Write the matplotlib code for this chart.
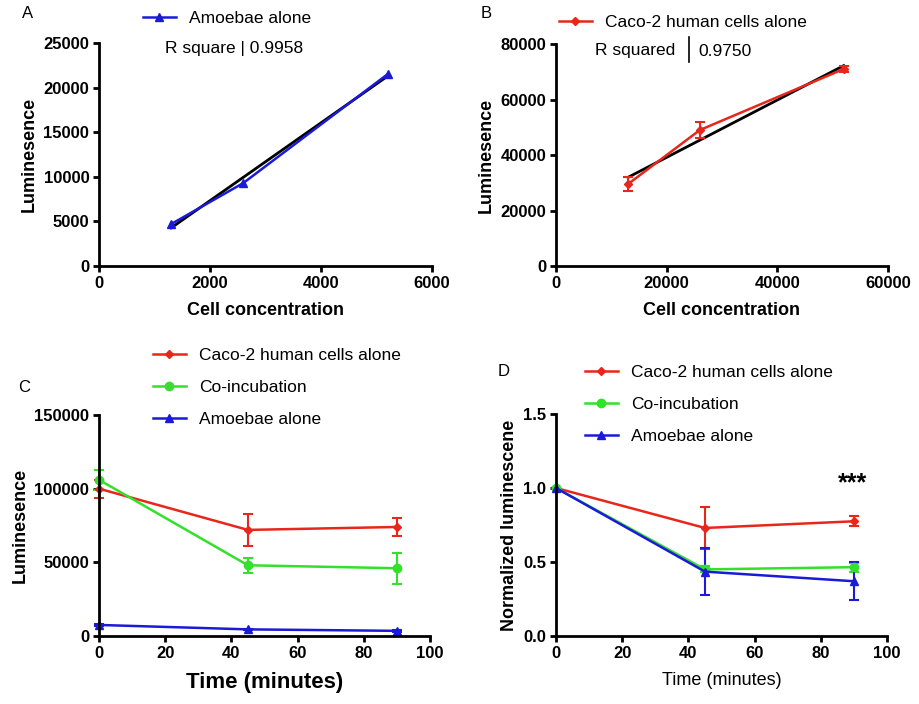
import numpy as np
import matplotlib
matplotlib.use('Agg')
import matplotlib.pyplot as plt
from matplotlib.ticker import FormatStrFormatter

plt.rcParams['font.family'] = ['Liberation Sans', 'DejaVu Sans']

RED = '#e8261b'
GREEN = '#33e02a'
BLUE = '#1a1ad8'

# panel A - amoebae standard curve
a_conc = [1300, 2600, 5200]
a_lum = [4700, 9300, 21500]
a_r2 = '0.9958'

# panel B - Caco-2 standard curve
b_conc = [13000, 26000, 52000]
b_lum = [29500, 49000, 71000]
b_err = [2500, 3000, 1000]
b_r2 = '0.9750'

# panels C and D - time course
times = [0, 45, 90]
c_caco = [100000, 72000, 74000]
c_caco_err = [6000, 11000, 6000]
c_coinc = [106000, 48000, 46000]
c_coinc_err = [7000, 5000, 10500]
c_amoeba = [7500, 4500, 3500]
c_amoeba_err = [500, 500, 500]

d_caco = [1.0, 0.73, 0.775]
d_caco_err = [0.0, 0.14, 0.035]
d_coinc = [1.0, 0.45, 0.465]
d_coinc_err = [0.0, 0.02, 0.03]
d_amoeba = [1.0, 0.435, 0.37]
d_amoeba_err = [0.0, 0.16, 0.13]

labels = ['Caco-2 human cells alone', 'Co-incubation', 'Amoebae alone']

W, H = 920, 704
fig = plt.figure(figsize=(W / 100, H / 100), dpi=100)


def make_axes(x0, x1, ytop, ybot):
    return fig.add_axes([x0 / W, 1 - ybot / H, (x1 - x0) / W, (ybot - ytop) / H])


def style(ax):
    for s in ['top', 'right']:
        ax.spines[s].set_visible(False)
    for s in ['left', 'bottom']:
        ax.spines[s].set_linewidth(2)
    ax.tick_params(direction='out', length=4, width=2, labelsize=12, pad=3)
    for t in ax.get_xticklabels() + ax.get_yticklabels():
        t.set_fontweight('bold')


def put_legend(ax, handles, x_px, y_px, spacing=0.96):
    # x_px, y_px: left edge of handle and centre of first row, in figure pixels
    leg = ax.legend(handles, [h.get_label() for h in handles],
                    loc='upper left', bbox_to_anchor=(x_px / W, 1 - (y_px - 7) / H),
                    bbox_transform=fig.transFigure, frameon=False, fontsize=12.5,
                    borderpad=0, borderaxespad=0, handlelength=1.9,
                    handletextpad=0.75, labelspacing=spacing)
    return leg


# ---- A ----
axA = make_axes(99, 432, 43, 266)
pA = np.polyfit(a_conc, a_lum, 1)
lA, = axA.plot(a_conc, a_lum, color=BLUE, marker='^', ms=6, lw=1.8, label='Amoebae alone', zorder=3)
fx = np.array([a_conc[0], a_conc[-1]])
axA.plot(fx, np.polyval(pA, fx), color='black', lw=2, zorder=2)
axA.set_xlim(0, 6000)
axA.set_ylim(0, 25000)
axA.set_xticks([0, 2000, 4000, 6000])
axA.set_yticks(range(0, 25001, 5000))
axA.set_xlabel('Cell concentration', fontsize=13, fontweight='bold', labelpad=8)
axA.set_ylabel('Luminesence', fontsize=13, fontweight='bold', labelpad=4)
style(axA)
put_legend(axA, [lA], 143, 18)
fig.text(165 / W, 1 - 49 / H, 'R square | ' + a_r2, fontsize=12.5, va='center', ha='left')
fig.text(22 / W, 1 - 14 / H, 'A', fontsize=12, va='center', ha='left')

# ---- B ----
axB = make_axes(556, 888, 44, 266)
pB = np.polyfit(b_conc, b_lum, 1)
fx = np.array([b_conc[0], b_conc[-1]])
axB.plot(fx, np.polyval(pB, fx), color='black', lw=2, zorder=2)
ebB = axB.errorbar(b_conc, b_lum, yerr=b_err, color=RED, marker='D', ms=4, lw=1.8,
                   capsize=3.5, capthick=1.5, elinewidth=1.5, zorder=3)
ebB.lines[0].set_label(labels[0])
axB.set_xlim(0, 60000)
axB.set_ylim(0, 80000)
axB.set_xticks([0, 20000, 40000, 60000])
axB.set_yticks(range(0, 80001, 20000))
axB.set_xlabel('Cell concentration', fontsize=13, fontweight='bold', labelpad=8)
axB.set_ylabel('Luminesence', fontsize=13, fontweight='bold', labelpad=4)
style(axB)
put_legend(axB, [ebB.lines[0]], 559, 22)
fig.text(595 / W, 1 - 51 / H, 'R squared', fontsize=12.5, va='center', ha='left')
fig.text(698 / W, 1 - 51 / H, b_r2, fontsize=12.5, va='center', ha='left')
fig.add_artist(plt.Line2D([689 / W, 689 / W], [1 - 37 / H, 1 - 62 / H], color='black', lw=1.2))
fig.text(481 / W, 1 - 14 / H, 'B', fontsize=12, va='center', ha='left')

# ---- C ----
axC = make_axes(99, 430, 415, 636)
series_c = [(c_caco, c_caco_err, RED, 'D', 4), (c_coinc, c_coinc_err, GREEN, 'o', 6),
            (c_amoeba, c_amoeba_err, BLUE, '^', 6)]
hC = []
for (vals, errs, col, mk, ms), lab in zip(series_c, labels):
    eb = axC.errorbar(times, vals, yerr=errs, color=col, marker=mk, ms=ms, lw=1.8,
                      capsize=3.5, capthick=1.5, elinewidth=1.5, clip_on=False)
    eb.lines[0].set_label(lab)
    hC.append(eb.lines[0])
axC.set_xlim(0, 100)
axC.set_ylim(0, 150000)
axC.set_xticks(range(0, 101, 20))
axC.set_yticks([0, 50000, 100000, 150000])
axC.set_xlabel('Time (minutes)', fontsize=16, fontweight='bold', labelpad=8)
axC.set_ylabel('Luminesence', fontsize=13, fontweight='bold', labelpad=4)
style(axC)
put_legend(axC, hC, 153, 355)
fig.text(18 / W, 1 - 387 / H, 'C', fontsize=12, va='center', ha='left')

# ---- D ----
axD = make_axes(556, 887, 414, 636)
series_d = [(d_caco, d_caco_err, RED, 'D', 4), (d_coinc, d_coinc_err, GREEN, 'o', 6),
            (d_amoeba, d_amoeba_err, BLUE, '^', 6)]
hD = []
for (vals, errs, col, mk, ms), lab in zip(series_d, labels):
    eb = axD.errorbar(times, vals, yerr=errs, color=col, marker=mk, ms=ms, lw=1.8,
                      capsize=3.5, capthick=1.5, elinewidth=1.5, clip_on=False)
    eb.lines[0].set_label(lab)
    hD.append(eb.lines[0])
axD.text(89.5, 1.03, '***', fontsize=18, fontweight='bold', ha='center', va='center')
axD.set_xlim(0, 100)
axD.set_ylim(0, 1.5)
axD.set_xticks(range(0, 101, 20))
axD.set_yticks([0, 0.5, 1.0, 1.5])
axD.yaxis.set_major_formatter(FormatStrFormatter('%.1f'))
axD.set_xlabel('Time (minutes)', fontsize=13, labelpad=8)
axD.set_ylabel('Normalized luminescene', fontsize=13, fontweight='bold', labelpad=4)
style(axD)
put_legend(axD, hD, 585, 372)
fig.text(498 / W, 1 - 372 / H, 'D', fontsize=12, va='center', ha='left')

fig.savefig('out.png', dpi=100)
